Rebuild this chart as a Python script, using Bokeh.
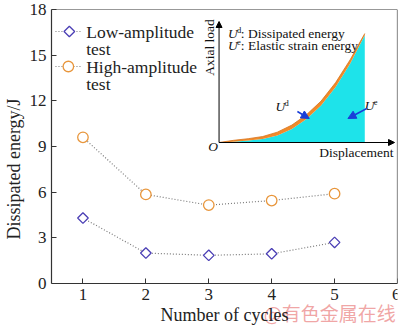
import numpy as np
from bokeh.plotting import figure
from bokeh.models import Range1d, Arrow, NormalHead, FixedTicker
from bokeh.core.properties import value
from bokeh.embed import file_html
from bokeh.resources import INLINE

# ---- data ----
cycles = [1, 2, 3, 4, 5]
low_amplitude = [4.3, 2.0, 1.85, 1.95, 2.7]
high_amplitude = [9.6, 5.85, 5.15, 5.45, 5.9]
x_ticks = [1, 2, 3, 4, 5, 6]
y_ticks = [0, 3, 6, 9, 12, 15, 18]

# schematic inset curve (normalised displacement / load)
inset_disp = [0, 0.1, 0.2, 0.3, 0.4, 0.5, 0.6, 0.7, 0.8, 0.9, 0.95, 1.0]
inset_load_upper = [0, 0.02, 0.035, 0.055, 0.095, 0.16, 0.255, 0.38, 0.55, 0.76, 0.88, 1.0]
inset_load_lower = [0, 0.008, 0.018, 0.032, 0.065, 0.125, 0.215, 0.34, 0.51, 0.725, 0.855, 0.985]

SERIF = "Liberation Serif"
W, H = 400, 328
L, R, T, B = 48, 397, 9, 283     # plotting box in canvas pixels
Y0, Y1 = 0, 18
# frame runs to the canvas bottom so the text under the x axis is drawable
y_start = Y0 - (H - B) * (Y1 - Y0) / (B - T)

p = figure(width=W, height=H, x_range=Range1d(0.5, 6), y_range=Range1d(y_start, Y1),
           output_backend="svg", toolbar_location=None,
           min_border_left=L, min_border_right=W - R, min_border_top=T,
           min_border_bottom=0, background_fill_color="white",
           border_fill_color="white")
p.outline_line_color = None
p.grid.visible = False

# pixel-coordinate ranges for annotations / inset
p.extra_x_ranges = {"px": Range1d(L, R)}
p.extra_y_ranges = {"px": Range1d(H, T)}
PX = dict(x_range_name="px", y_range_name="px")

for ax in (p.xaxis[0], p.yaxis[0]):
    ax.major_tick_in = 5
    ax.major_tick_out = 0
    ax.minor_tick_in = 0
    ax.minor_tick_out = 0
    ax.axis_line_color = "#333333"
    ax.axis_line_width = 1.2
    ax.major_tick_line_color = "#333333"
    ax.major_label_text_font = SERIF
    ax.major_label_text_font_size = "17px"
    ax.major_label_text_color = "#222222"
    ax.axis_label_text_font = SERIF
    ax.axis_label_text_font_size = "18px"
    ax.axis_label_text_font_style = "normal"
    ax.axis_label_text_color = "#222222"

p.xaxis.ticker = FixedTicker(ticks=x_ticks)
p.yaxis.ticker = FixedTicker(ticks=y_ticks)
p.xaxis.fixed_location = Y0
p.xaxis.bounds = (0.5, 6)
p.yaxis.bounds = (Y0, Y1)
p.xaxis.axis_label = "Number of cycles"
p.yaxis.axis_label = "Dissipated energy/J"
p.xaxis.major_label_standoff = 5
p.xaxis.axis_label_standoff = 2
p.yaxis.major_label_standoff = 5
p.yaxis.axis_label_standoff = 3

# top and right edges of the box
p.line([L, R], [T, T], line_color="#333333", line_width=1.2, **PX)
p.line([R, R], [T, B], line_color="#333333", line_width=1.2, **PX)

LOW_C = "#4B3FB5"
HIGH_C = "#E8963C"
LINE_C = "#7a7a7a"

# ---- main series ----
p.line(cycles, low_amplitude, line_color=LINE_C, line_dash="1 2", line_width=1.2)
p.line(cycles, high_amplitude, line_color=LINE_C, line_dash="1 2", line_width=1.2)
p.scatter(cycles, low_amplitude, marker="square", angle=np.pi / 4, size=7.5,
          fill_color="white", line_color=LOW_C, line_width=1.3)
p.scatter(cycles, high_amplitude, marker="circle", size=10.5,
          fill_color="white", line_color=HIGH_C, line_width=1.3)

# ---- legend (manual, two-line labels) ----
leg_rows = [(31, "Low-amplitude", "square", LOW_C), (66, "High-amplitude", "circle", HIGH_C)]
for yy, lab, mk, col in leg_rows:
    p.line([52, 78], [yy, yy], line_color=LINE_C, line_dash="1 2", line_width=1.2, **PX)
    if mk == "square":
        p.scatter([66], [yy], marker="square", angle=np.pi / 4, size=7.5,
                  fill_color="white", line_color=col, line_width=1.3, **PX)
    else:
        p.scatter([65], [yy], marker="circle", size=10.5,
                  fill_color="white", line_color=col, line_width=1.3, **PX)
    p.text([83], [yy], text=[lab], text_font=value(SERIF), text_font_size="17.5px",
           text_baseline="middle", text_align="left", text_color="#222222", **PX)
    p.text([83], [yy + 17], text=["test"], text_font=value(SERIF), text_font_size="17.5px",
           text_baseline="middle", text_align="left", text_color="#222222", **PX)

# ---- inset schematic ----
OX, OY, SX, SY = 217, 142, 147, 109
ix = [OX + SX * d for d in inset_disp]
iu = [OY - SY * v for v in inset_load_upper]
il = [OY - SY * v for v in inset_load_lower]
p.varea(x=ix, y1=[OY] * len(ix), y2=il, fill_color="#1EE3EA", **PX)
p.varea(x=ix, y1=il, y2=iu, fill_color="#F08A2A", **PX)
p.line(ix, iu, line_color="#D9731A", line_width=0.8, **PX)

# inset axes
p.add_layout(Arrow(end=NormalHead(size=6, fill_color="black", line_color="black"),
                   x_start=OX, y_start=OY, x_end=OX, y_end=21,
                   line_color="black", line_width=1, **PX))
p.add_layout(Arrow(end=NormalHead(size=6, fill_color="black", line_color="black"),
                   x_start=OX, y_start=OY, x_end=394, y_end=OY,
                   line_color="black", line_width=1, **PX))

TXT = dict(text_font=value(SERIF), text_color="#111111", **PX)
p.text([207], [47], text=["Axial load"], angle=np.pi / 2, text_font_size="13.5px",
       text_align="center", text_baseline="middle", **TXT)
p.text([393], [152], text=["Displacement"], text_font_size="13.5px",
       text_align="right", text_baseline="middle", **TXT)
p.text([211], [146], text=["O"], text_font_size="13.5px", text_font_style="italic",
       text_align="center", text_baseline="middle", **TXT)

def u_label(x, y, sup, rest=""):
    p.text([x], [y], text=["U"], text_font_size="13.5px", text_font_style="italic",
           text_align="left", text_baseline="middle", **TXT)
    p.text([x + 9], [y - 4], text=[sup], text_font_size="8.5px",
           text_align="left", text_baseline="middle", **TXT)
    if rest:
        p.text([x + 13], [y], text=[rest], text_font_size="13.5px",
               text_align="left", text_baseline="middle", **TXT)

u_label(226, 33, "d", ": Dissipated energy")
u_label(226, 45, "e", ": Elastic strain energy")
u_label(274, 106, "d")
u_label(364, 105, "e")

BLUE = "#1a3fd8"
p.add_layout(Arrow(end=NormalHead(size=8, fill_color=BLUE, line_color=BLUE),
                   x_start=296, y_start=111, x_end=308, y_end=118,
                   line_color=BLUE, line_width=1.5, **PX))
p.add_layout(Arrow(end=NormalHead(size=8, fill_color=BLUE, line_color=BLUE),
                   x_start=366, y_start=108, x_end=347, y_end=118,
                   line_color=BLUE, line_width=1.5, **PX))

# watermark
p.text([262], [312], text=["@有色金属在线"], text_font=value("Noto Sans CJK SC"),
       text_font_size="19px", text_color="#EE9696", text_alpha=0.85,
       text_align="left", text_baseline="middle", **PX)

open("out.html", "w").write(file_html(p, INLINE))
